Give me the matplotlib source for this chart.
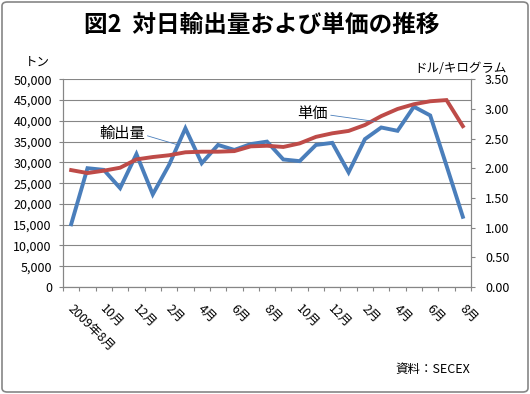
import matplotlib
matplotlib.use("Agg")
import matplotlib.pyplot as plt
from matplotlib.patches import FancyBboxPatch
import numpy as np

plt.rcParams['font.family'] = ['Noto Sans CJK JP', 'DejaVu Sans']

months = ["2009年8月", "9月", "10月", "11月", "12月", "1月", "2月", "3月", "4月", "5月", "6月", "7月",
          "8月", "9月", "10月", "11月", "12月", "1月", "2月", "3月", "4月", "5月", "6月", "7月", "8月"]
volume = [15100, 28600, 28200, 23800, 32000, 22300, 29400, 38200, 29800, 34200, 33000, 34400,
          35000, 30700, 30300, 34200, 34700, 27600, 35600, 38400, 37600, 43400, 41300, 29200, 16900]
price = [1.97, 1.92, 1.96, 2.01, 2.15, 2.19, 2.22, 2.27, 2.28, 2.28, 2.29, 2.37,
         2.38, 2.36, 2.42, 2.53, 2.59, 2.63, 2.73, 2.88, 3.00, 3.08, 3.13, 3.15, 2.71]
left_ticks = list(range(0, 50001, 5000))
right_ticks = [0.0, 0.5, 1.0, 1.5, 2.0, 2.5, 3.0, 3.5]

W, H = 530, 394
fig = plt.figure(figsize=(W / 100, H / 100), dpi=100)
fig.patch.set_facecolor('white')

border = FancyBboxPatch((2 / W, 2 / H), 1 - 4 / W, 1 - 4 / H, boxstyle="round,pad=0,rounding_size=0.01",
                        transform=fig.transFigure, facecolor='none', edgecolor='#868686', linewidth=1.2)
fig.patches.append(border)

ax = fig.add_axes([63 / W, 1 - 287 / H, (471 - 63) / W, (287 - 79.3) / H])
ax2 = ax.twinx()

x = np.arange(len(months))
grid_c = '#868686'
blue = '#4A7EBB'
red = '#BE4B48'

ax.set_ylim(0, 50000)
ax.set_yticks(left_ticks)
ax.set_yticklabels([f"{v:,}" for v in left_ticks], fontsize=9)
ax.yaxis.grid(True, color=grid_c, linewidth=0.8)
ax.set_axisbelow(True)
ax.set_xlim(-0.5, len(months) - 0.5)

ax.set_xticks(np.arange(-0.5, len(months), 1))
ax.set_xticklabels([])
ax.tick_params(axis='x', direction='out', length=3, color=grid_c, width=0.8)
ax.tick_params(axis='y', direction='out', length=3, color=grid_c, width=0.8, pad=5)
for i in range(0, len(months), 2):
    ax.text(i - 0.1, -0.095, months[i], transform=ax.get_xaxis_transform(), rotation=-45,
            rotation_mode='anchor', ha='left', va='center', fontsize=9)

ax2.set_ylim(0, 3.5)
ax2.set_yticks(right_ticks)
ax2.set_yticklabels([f"{v:.2f}" for v in right_ticks], fontsize=9)
ax2.tick_params(axis='y', direction='out', length=3, color=grid_c, width=0.8, pad=7)

for a in (ax, ax2):
    a.spines['top'].set_visible(False)
    for s in ('left', 'right', 'bottom'):
        a.spines[s].set_color(grid_c)
        a.spines[s].set_linewidth(0.8)

ax.plot(x, volume, color=blue, linewidth=2.8, solid_joinstyle='miter', zorder=3)
ax2.plot(x, price, color=red, linewidth=2.8, solid_joinstyle='miter', zorder=3)

# annotations
ax.annotate("輸出量", xy=(6.55, 34200), xytext=(3.1, 37000), fontsize=11, ha='center', va='center',
            arrowprops=dict(arrowstyle='-', color='#4A7EBB', linewidth=0.6, shrinkA=0, shrinkB=0,
                            relpos=(1.0, 0.4)))
ax2.annotate("単価", xy=(18.6, 2.79), xytext=(14.8, 2.93), fontsize=11, ha='center', va='center',
             arrowprops=dict(arrowstyle='-', color='#4A7EBB', linewidth=0.6, shrinkA=0, shrinkB=0,
                             relpos=(1.0, 0.4)))

fig.text(262 / W, 1 - 25 / H, "図2  対日輸出量および単価の推移", fontsize=17, fontweight='bold',
         ha='center', va='center')
fig.text(25 / W, 1 - 62 / H, "トン", fontsize=9, ha='left', va='center')
fig.text(507 / W, 1 - 69 / H, "ドル/キログラム", fontsize=9, ha='right', va='center')
fig.text(470 / W, 1 - 369 / H, "資料：SECEX", fontsize=9, ha='right', va='center')

fig.savefig("out.png", dpi=100)
